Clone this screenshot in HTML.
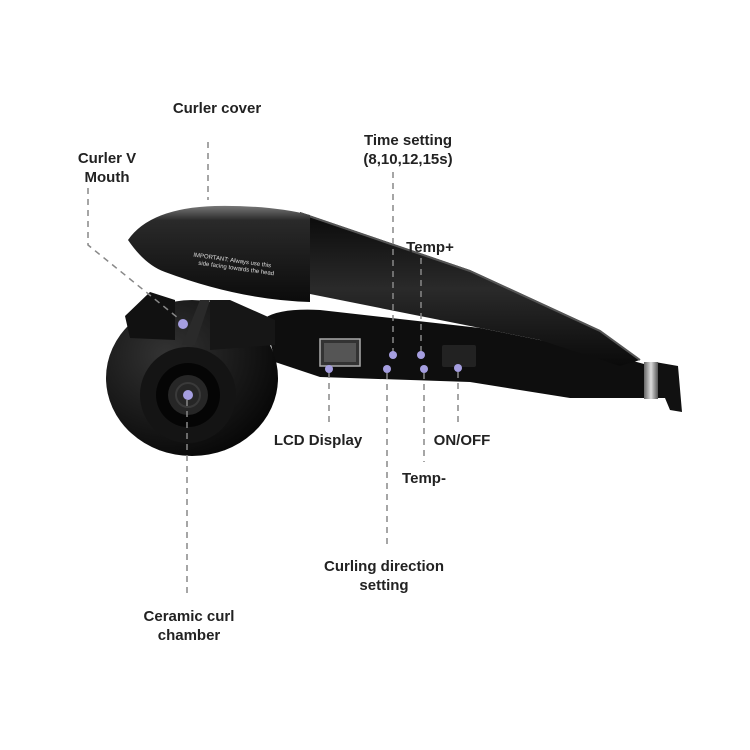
<!DOCTYPE html>
<html><head><meta charset="utf-8"><style>
html,body{margin:0;padding:0;background:#fff;}
svg{display:block}
text{font-family:"Liberation Sans","DejaVu Sans",sans-serif;font-weight:bold;font-size:15px;fill:#222;text-anchor:middle}
</style></head><body>
<svg width="750" height="750" viewBox="0 0 750 750" xmlns="http://www.w3.org/2000/svg">
<defs>
<linearGradient id="cov" x1="0" y1="0" x2="0" y2="1">
<stop offset="0" stop-color="#777"/><stop offset="0.15" stop-color="#2a2a2a"/><stop offset="1" stop-color="#0b0b0b"/></linearGradient>
<linearGradient id="hd" x1="0" y1="0" x2="0" y2="1">
<stop offset="0" stop-color="#0a0a0a"/><stop offset="0.5" stop-color="#2a2a2a"/><stop offset="1" stop-color="#0a0a0a"/></linearGradient>
<radialGradient id="ball" cx="0.35" cy="0.35" r="0.75">
<stop offset="0" stop-color="#333"/><stop offset="1" stop-color="#050505"/></radialGradient>
<linearGradient id="ring" x1="0" y1="0" x2="1" y2="0">
<stop offset="0" stop-color="#666"/><stop offset="0.5" stop-color="#ddd"/><stop offset="1" stop-color="#555"/></linearGradient>
</defs>
<!-- cable end -->
<path d="M655 362 L678 366 L682 412 L670 410 L665 398 L655 398 Z" fill="#111"/>
<rect x="644" y="362" width="14" height="37" fill="url(#ring)"/>
<!-- lower body -->
<path d="M265 318 Q280 308 320 310 L480 328 L600 352 L644 364 L644 398 L570 398 L470 382 L320 377 L275 362 Z" fill="#0e0e0e"/>
<!-- handle upper -->
<path d="M300 212 L470 270 L600 330 L640 360 L620 366 L540 340 L300 292 Z" fill="url(#hd)"/>
<path d="M300 213 L470 271 L600 331 L640 360" stroke="#555" stroke-width="2" fill="none"/>
<!-- cover -->
<path d="M128 240 Q150 208 215 206 Q270 205 310 215 L310 302 Q240 300 165 272 Q145 265 128 240 Z" fill="url(#cov)"/>
<text x="232" y="262" style="font-size:6px;fill:#ddd;font-weight:normal" transform="rotate(8 232 262)">IMPORTANT: Always use this</text>
<text x="236" y="270" style="font-size:6px;fill:#ddd;font-weight:normal" transform="rotate(8 236 270)">side facing towards the head</text>
<!-- chamber -->
<ellipse cx="192" cy="378" rx="86" ry="78" fill="url(#ball)"/>
<path d="M125 316 L150 292 L175 300 L175 340 L130 338 Z" fill="#111"/>
<path d="M210 300 L230 300 L275 320 L275 345 L210 350 Z" fill="#161616"/>
<path d="M182 345 L200 300 L210 300 L195 345 Z" fill="#2a2a2a"/>
<circle cx="188" cy="395" r="48" fill="#141414"/>
<circle cx="188" cy="395" r="32" fill="#050505"/>
<circle cx="188" cy="395" r="20" fill="#262626"/>
<circle cx="188" cy="395" r="12" fill="none" stroke="#3a3a3a" stroke-width="2"/>
<!-- LCD -->
<rect x="320" y="339" width="40" height="27" fill="#333" stroke="#aaa" stroke-width="1.5"/>
<rect x="324" y="343" width="32" height="19" fill="#555"/>
<!-- on/off -->
<rect x="442" y="345" width="34" height="22" rx="2" fill="#222"/>
<!-- dashed lines -->
<g stroke="#888" stroke-width="1.5" stroke-dasharray="6,5" fill="none">
<line x1="208" y1="142" x2="208" y2="200"/>
<polyline points="88,188 88,245 183,322"/>
<line x1="393" y1="172" x2="393" y2="355"/>
<line x1="421" y1="258" x2="421" y2="355"/>
<line x1="329" y1="372" x2="329" y2="425"/>
<line x1="458" y1="372" x2="458" y2="425"/>
<line x1="424" y1="373" x2="424" y2="462"/>
<line x1="387" y1="373" x2="387" y2="548"/>
<line x1="187" y1="400" x2="187" y2="598"/>
</g>
<g fill="#a59ee0">
<circle cx="183" cy="324" r="5"/><circle cx="188" cy="395" r="5"/>
<circle cx="329" cy="369" r="4"/><circle cx="393" cy="355" r="4"/>
<circle cx="421" cy="355" r="4"/><circle cx="387" cy="369" r="4"/>
<circle cx="424" cy="369" r="4"/><circle cx="458" cy="368" r="4"/>
</g>
<text x="217" y="113">Curler cover</text>
<text x="107" y="163">Curler V</text>
<text x="107" y="182">Mouth</text>
<text x="408" y="145">Time setting</text>
<text x="408" y="164">(8,10,12,15s)</text>
<text x="430" y="252">Temp+</text>
<text x="318" y="445">LCD Display</text>
<text x="462" y="445">ON/OFF</text>
<text x="424" y="483">Temp-</text>
<text x="384" y="571">Curling direction</text>
<text x="384" y="590">setting</text>
<text x="189" y="621">Ceramic curl</text>
<text x="189" y="640">chamber</text>
</svg>
</body></html>
